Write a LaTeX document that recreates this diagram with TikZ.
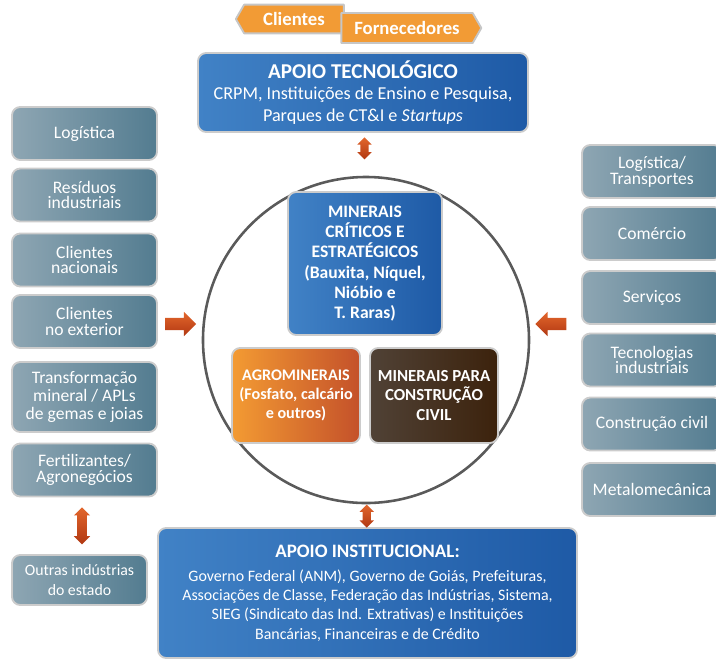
\documentclass[tikz,border=0pt]{standalone}
\usepackage{fontspec}
\setmainfont{Carlito}
\usetikzlibrary{calc,shapes.symbols,shapes.arrows}

\definecolor{azulE}{HTML}{4182C6}
\definecolor{azulD}{HTML}{1E5AA6}
\definecolor{cinzaE}{HTML}{8EA6B3}
\definecolor{cinzaD}{HTML}{537C90}
\definecolor{laranja}{HTML}{F29B35}
\definecolor{agroE}{HTML}{F39B33}
\definecolor{agroD}{HTML}{C4512A}
\definecolor{marromE}{HTML}{504236}
\definecolor{marromD}{HTML}{3C220C}
\definecolor{setaE}{HTML}{E2662C}
\definecolor{setaD}{HTML}{B13812}
\definecolor{anel}{HTML}{5A5A5A}

\begin{document}
\begin{tikzpicture}[x=0.03cm, y=-0.03cm, line join=round,
    caixa/.style={rectangle, rounded corners=7pt, draw=gray!40, line width=1.6pt,
        text=white, align=center, inner sep=2pt},
    cinza/.style={caixa, left color=cinzaE, right color=cinzaD,
        font=\fontsize{15}{13.5}\selectfont, minimum height=1.59cm},
    azul/.style={caixa, left color=azulE, right color=azulD},
    etiqueta/.style={signal, signal pointer angle=120, fill=laranja, draw=gray!45,
        line width=1.6pt, text=white, font=\bfseries\fontsize{16}{18}\selectfont,
        inner sep=0pt, minimum height=0.86cm},
    setadupla/.style={double arrow, rotate=90, draw=none, inner xsep=0pt, inner ysep=0.12cm,
        top color=setaE, bottom color=setaD, double arrow head extend=0.09cm},
    setasimples/.style={single arrow, draw=none, inner xsep=0pt, inner ysep=0.18cm,
        minimum height=0.93cm, single arrow head extend=0.18cm,
        top color=setaE, bottom color=setaD}]
    \useasboundingbox (0,0) rectangle (716,659);

    % etiquetas do topo
    \node[etiqueta, signal to=west, minimum width=3.24cm] (clientes) at (294,19) {Clientes};
    \node[etiqueta, signal to=east, minimum width=4.2cm, minimum height=0.9cm] (fornec) at (407,28) {Fornecedores};

    % apoio tecnologico
    \node[azul, minimum width=9.9cm, minimum height=2.37cm,
        font=\fontsize{15.5}{18.5}\selectfont] (tecno) at (363,92.5)
        {{\bfseries\fontsize{18}{21}\selectfont APOIO TECNOLÓGICO}\\[0pt]
         CRPM, Instituições de Ensino e Pesquisa,\\
         Parques de CT\&I e \textit{Startups}};

    % circulo central
    \coordinate (C) at (366,340);
    \draw[anel, line width=2.2pt] (C) circle[radius=4.89cm];
    \coordinate (Ctopo) at (366,164);
    \coordinate (Cbase) at (366,505);

    \node[azul, minimum width=4.62cm, minimum height=4.29cm,
        font=\bfseries\fontsize{15}{17.3}\selectfont] (criticos) at (365,263.5)
        {MINERAIS\\CRÍTICOS E\\ESTRATÉGICOS\\(Bauxita, Níquel,\\Nióbio e\\T. Raras)};
    \node[caixa, left color=agroE, right color=agroD, minimum width=3.84cm, minimum height=2.85cm,
        font=\bfseries\fontsize{13.8}{16}\selectfont] (agro) at (296,395.5)
        {AGROMINERAIS\\(Fosfato, calcário\\e outros)};
    \node[caixa, left color=marromE, right color=marromD, minimum width=3.84cm, minimum height=2.85cm,
        font=\bfseries\fontsize{14.4}{16.5}\selectfont] (civil) at (434,395.5)
        {MINERAIS PARA\\CONSTRUÇÃO\\CIVIL};

    % coluna da esquerda
    \node[cinza, minimum width=4.35cm] (logE) at (84.5,133.5) {Logística};
    \node[cinza, minimum width=4.35cm] (resid) at (84.5,195) {Resíduos\\industriais};
    \node[cinza, minimum width=4.35cm] (nacio) at (84.5,260) {Clientes\\nacionais};
    \node[cinza, minimum width=4.35cm] (exter) at (84.5,321.5) {Clientes\\no exterior};
    \node[cinza, minimum width=4.35cm, minimum height=2.1cm,
        font=\fontsize{15}{15}\selectfont] (transf) at (84.5,397)
        {Transformação\\mineral / APLs\\de gemas e joias};
    \node[cinza, minimum width=4.35cm] (fert) at (84.5,470) {Fertilizantes/\\Agronegócios};
    \node[cinza, minimum width=4.05cm, minimum height=1.5cm,
        font=\fontsize{13.5}{16.5}\selectfont] (outras) at (79.5,580) {Outras indústrias\\do estado};

    % coluna da direita (cortada na borda)
    \node[cinza, minimum width=4.2cm] (logD) at (652,171.5) {Logística/\\Transportes};
    \node[cinza, minimum width=4.2cm] (comer) at (652,233.5) {Comércio};
    \node[cinza, minimum width=4.2cm] (serv) at (652,297.5) {Serviços};
    \node[cinza, minimum width=4.2cm] (tecind) at (652,360) {Tecnologias\\industriais};
    \node[cinza, minimum width=4.2cm] (constr) at (652,424) {Construção civil};
    \node[cinza, minimum width=4.2cm] (metal) at (652,489.5) {Metalomecânica};

    % apoio institucional
    \node[azul, minimum width=12.57cm, minimum height=3.9cm,
        font=\fontsize{13.6}{16.5}\selectfont] (instit) at (367.5,593)
        {{\bfseries\fontsize{16.2}{19}\selectfont APOIO INSTITUCIONAL:}\\[4pt]
         Governo Federal (ANM), Governo de Goiás, Prefeituras,\\
         Associações de Classe, Federação das Indústrias, Sistema,\\
         SIEG (Sindicato das Ind. Extrativas) e Instituições\\
         Bancárias, Financeiras e de Crédito};

    % setas
    \node[setadupla, minimum height=0.66cm] (s1)
        at ($(tecno.south)!0.5!(Ctopo)$) {};
    \node[setadupla, minimum height=0.69cm] (s2)
        at ($(Cbase)!0.5!(instit.north)$) {};
    \node[setadupla, minimum height=1.11cm, inner ysep=0.14cm, double arrow head extend=0.1cm] (s3)
        at ($(fert.south)!0.5!(outras.north)$) {};
    \node[setasimples] (s4) at (177.5,324) {};
    \node[setasimples, shape border rotate=180] (s5) at (554,324) {};
\end{tikzpicture}
\end{document}
